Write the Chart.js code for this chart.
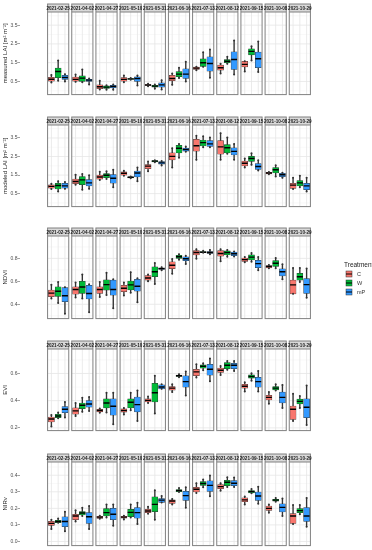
<!DOCTYPE html>
<html><head><meta charset="utf-8">
<script src="https://cdn.jsdelivr.net/npm/chart.js@4.4.1/dist/chart.umd.min.js"></script>
<style>
html,body{margin:0;padding:0;background:#fff;}
body{width:372px;height:550px;position:relative;overflow:hidden;}
canvas{position:absolute;left:0;}
</style></head><body>
<script>
// ---------- DATA ----------
const dates = ['2021-02-25','2021-04-02','2021-04-27','2021-05-10','2021-05-31','2021-06-16','2021-07-13','2021-08-12','2021-09-15','2021-10-08','2021-10-29'];
const treatments = ['C','W','mP'];
// each entry: [min, q1, median, q3, max]
const mLAI_C = [[0.45,0.52,0.62,0.72,0.85],[0.48,0.52,0.61,0.73,0.87],[0.07,0.11,0.22,0.32,0.54],[0.46,0.52,0.61,0.71,0.82],[0.25,0.29,0.31,0.34,0.38],[0.32,0.54,0.66,0.82,0.93],[1.10,1.14,1.21,1.26,1.28],[0.93,1.10,1.23,1.37,1.44],[1.03,1.28,1.41,1.57,1.58],null,null];
const mLAI_W = [[0.54,0.70,1.03,1.21,1.62],[0.46,0.50,0.68,0.80,1.14],[0.06,0.13,0.20,0.27,0.30],[0.59,0.61,0.64,0.66,0.68],[0.11,0.20,0.25,0.30,0.34],[0.68,0.75,0.89,1.03,1.23],[1.28,1.30,1.50,1.71,2.05],[1.44,1.50,1.58,1.67,1.81],[1.62,1.92,2.10,2.24,2.37],null,null];
const mLAI_mP = [[0.50,0.61,0.71,0.82,0.89],[0.34,0.50,0.57,0.62,0.66],[0.06,0.16,0.23,0.30,0.34],[0.29,0.50,0.66,0.75,0.82],[0.07,0.20,0.32,0.43,0.57],[0.50,0.66,0.89,1.17,1.55],[0.70,1.05,1.46,1.81,2.20],[0.87,1.14,1.67,2.08,2.68],[1.01,1.23,1.71,2.06,2.63],null,null];

const modLAI_C = [[0.75,0.80,0.89,0.98,1.03],[0.98,1.03,1.15,1.29,1.52],[1.24,1.28,1.40,1.50,1.68],[1.47,1.50,1.60,1.68,1.73],[1.70,1.84,1.98,2.07,2.23],[1.91,2.32,2.51,2.70,2.95],[2.32,2.79,3.08,3.43,3.62],[2.33,2.63,3.02,3.36,3.76],[1.91,2.00,2.14,2.25,2.39],[1.55,1.56,1.61,1.65,1.67],[0.75,0.78,0.96,1.06,1.35]];
const modLAI_W = [[0.61,0.75,0.94,1.06,1.17],[0.71,0.98,1.24,1.42,1.56],[1.29,1.36,1.49,1.58,1.70],[1.33,1.35,1.38,1.40,1.42],[2.19,2.21,2.25,2.28,2.30],[2.44,2.70,2.95,3.11,3.18],[3.00,3.07,3.25,3.39,3.59],[2.65,2.70,2.97,3.15,3.53],[2.05,2.23,2.39,2.51,2.67],[1.42,1.61,1.79,1.91,2.03],[0.85,0.92,1.08,1.20,1.47]];
const modLAI_mP = [[0.76,0.80,0.92,1.05,1.12],[0.76,0.92,1.08,1.26,1.49],[0.85,1.06,1.33,1.52,1.79],[1.17,1.40,1.61,1.72,1.91],[2.02,2.09,2.16,2.23,2.26],[2.76,2.79,2.88,2.96,3.04],[3.00,3.04,3.18,3.36,3.53],[2.33,2.58,2.78,2.97,3.18],[1.75,1.80,1.96,2.12,2.30],[1.35,1.42,1.52,1.59,1.63],[0.61,0.71,0.92,1.06,1.36]];

const ndvi_C = [[0.451,0.466,0.497,0.523,0.571],[0.460,0.489,0.529,0.551,0.589],[0.463,0.494,0.529,0.551,0.594],[0.477,0.509,0.540,0.566,0.589],[0.600,0.609,0.629,0.649,0.660],[0.666,0.711,0.740,0.769,0.794],[0.797,0.829,0.851,0.869,0.880],[0.774,0.820,0.843,0.869,0.880],[0.766,0.774,0.789,0.803,0.811],[0.714,0.717,0.729,0.737,0.743],[0.491,0.491,0.569,0.611,0.717]];
const ndvi_W = [[0.411,0.469,0.514,0.551,0.594],[0.451,0.494,0.551,0.600,0.660],[0.480,0.523,0.571,0.614,0.674],[0.500,0.526,0.569,0.603,0.680],[0.577,0.640,0.683,0.726,0.760],[0.789,0.800,0.814,0.826,0.837],[0.849,0.851,0.854,0.860,0.866],[0.814,0.831,0.851,0.866,0.874],[0.771,0.786,0.811,0.831,0.846],[0.714,0.729,0.757,0.780,0.803],[0.594,0.609,0.640,0.669,0.717]];
const ndvi_mP = [[0.317,0.423,0.474,0.546,0.549],[0.331,0.446,0.494,0.566,0.574],[0.366,0.480,0.529,0.611,0.617],[0.417,0.514,0.557,0.617,0.626],[0.697,0.703,0.711,0.717,0.723],[0.751,0.780,0.797,0.814,0.823],[0.837,0.843,0.851,0.860,0.874],[0.817,0.823,0.840,0.854,0.860],[0.697,0.720,0.754,0.783,0.811],[0.617,0.646,0.683,0.709,0.749],[0.457,0.494,0.571,0.623,0.711]];

const evi_C = [[0.210,0.243,0.265,0.280,0.294],[0.287,0.301,0.325,0.347,0.383],[0.311,0.318,0.328,0.337,0.342],[0.299,0.316,0.328,0.340,0.347],[0.383,0.390,0.402,0.414,0.431],[0.463,0.477,0.492,0.504,0.520],[0.571,0.583,0.612,0.631,0.667],[0.588,0.607,0.624,0.639,0.655],[0.467,0.492,0.506,0.520,0.535],[0.378,0.405,0.424,0.439,0.463],[0.251,0.263,0.337,0.361,0.451]];
const evi_W = [[0.270,0.275,0.287,0.299,0.313],[0.318,0.342,0.366,0.383,0.422],[0.313,0.347,0.383,0.414,0.458],[0.330,0.347,0.388,0.414,0.458],[0.306,0.390,0.458,0.528,0.583],[0.573,0.578,0.583,0.588,0.595],[0.624,0.639,0.653,0.663,0.675],[0.627,0.636,0.660,0.680,0.692],[0.547,0.566,0.578,0.590,0.602],[0.475,0.480,0.492,0.504,0.520],[0.347,0.376,0.395,0.412,0.434]];
const evi_mP = [[0.277,0.311,0.337,0.357,0.390],[0.325,0.352,0.376,0.400,0.427],[0.227,0.294,0.359,0.414,0.458],[0.251,0.318,0.371,0.427,0.475],[0.487,0.487,0.501,0.516,0.520],[0.439,0.499,0.540,0.583,0.614],[0.542,0.588,0.631,0.667,0.711],[0.619,0.636,0.660,0.675,0.692],[0.467,0.499,0.540,0.571,0.619],[0.347,0.383,0.424,0.463,0.516],[0.222,0.275,0.352,0.414,0.511]];

const nirv_C = [[0.075,0.097,0.109,0.121,0.131],[0.121,0.131,0.154,0.164,0.188],[0.137,0.139,0.147,0.152,0.156],[0.133,0.141,0.147,0.152,0.156],[0.168,0.174,0.184,0.194,0.210],[0.224,0.230,0.244,0.251,0.257],[0.293,0.299,0.315,0.327,0.352],[0.307,0.319,0.331,0.343,0.352],[0.224,0.240,0.251,0.263,0.271],[0.174,0.188,0.200,0.214,0.224],[0.105,0.109,0.154,0.168,0.220]];
const nirv_W = [[0.113,0.113,0.121,0.127,0.139],[0.154,0.160,0.172,0.180,0.204],[0.145,0.154,0.174,0.198,0.224],[0.145,0.150,0.176,0.194,0.224],[0.131,0.180,0.224,0.269,0.309],[0.299,0.301,0.307,0.313,0.323],[0.327,0.339,0.350,0.362,0.374],[0.329,0.337,0.358,0.370,0.388],[0.291,0.293,0.301,0.307,0.317],[0.240,0.244,0.250,0.255,0.263],[0.164,0.174,0.186,0.198,0.220]];
const nirv_mP = [[0.061,0.089,0.121,0.149,0.180],[0.075,0.109,0.149,0.174,0.214],[0.095,0.131,0.164,0.200,0.224],[0.105,0.141,0.174,0.204,0.234],[0.236,0.236,0.250,0.259,0.275],[0.204,0.248,0.277,0.303,0.327],[0.273,0.303,0.339,0.366,0.398],[0.329,0.337,0.352,0.368,0.386],[0.228,0.248,0.275,0.299,0.331],[0.154,0.178,0.206,0.228,0.259],[0.089,0.121,0.154,0.204,0.263]];

const ticksLAI = [0.5,1.5,2.5,3.5];
const minorLAI = [0,1,2,3,4];
const ticksNDVI = [0.4,0.6,0.8];
const minorNDVI = [0.3,0.5,0.7,0.9];
const ticksEVI = [0.2,0.4,0.6];
const minorEVI = [0.3,0.5,0.7];
const ticksNIRv = [0.0,0.1,0.2,0.3,0.4];
const minorNIRv = [0.05,0.15,0.25,0.35,0.45];

// ---------- STYLE / LAYOUT ----------
const colors = ['#F8766D','#00BA38','#3399FF'];
const rows = [
  {title:'measured LAI [m² m⁻²]', series:[mLAI_C,mLAI_W,mLAI_mP], min:-0.2, max:4.2, ticks:ticksLAI, minor:minorLAI, stripTop:4, panelBottom:96},
  {title:'modeled LAI [m² m⁻²]', series:[modLAI_C,modLAI_W,modLAI_mP], min:-0.2, max:4.2, ticks:ticksLAI, minor:minorLAI, stripTop:117, panelBottom:208},
  {title:'NDVI', series:[ndvi_C,ndvi_W,ndvi_mP], min:0.275, max:0.995, ticks:ticksNDVI, minor:minorNDVI, stripTop:228, panelBottom:320, legend:true},
  {title:'EVI', series:[evi_C,evi_W,evi_mP], min:0.18, max:0.78, ticks:ticksEVI, minor:minorEVI, stripTop:341, panelBottom:432},
  {title:'NIRv', series:[nirv_C,nirv_W,nirv_mP], min:-0.025, max:0.48, ticks:ticksNIRv, minor:minorNIRv, stripTop:454, panelBottom:547}
];
const STRIP = 8, GAP = 3, AXIS_W = 19.5, RIGHT = 338.5;
const D = (26/3.2)/29; // dodge spacing in facet units

Chart.defaults.font.family = '"Liberation Sans", Arial, sans-serif';

function line(ctx,x1,y1,x2,y2){ctx.beginPath();ctx.moveTo(x1,y1);ctx.lineTo(x2,y2);ctx.stroke();}

const facetPlugin = {
  id:'facets',
  beforeDatasetsDraw(chart, args, o){
    const {ctx, chartArea:a, scales} = chart;
    const xs=[scales.x0,scales.x1,scales.x2], y=scales.y;
    ctx.save();
    dates.forEach((d,i)=>{
      const l = xs[1].getPixelForValue(i-0.5)+GAP/2, r = xs[1].getPixelForValue(i+0.5)-GAP/2;
      ctx.strokeStyle='#F3F3F3'; ctx.lineWidth=0.5;
      o.minor.forEach(v=>{const py=y.getPixelForValue(v); if(py>a.top&&py<a.bottom) line(ctx,l,py,r,py);});
      ctx.strokeStyle='#E6E6E6'; ctx.lineWidth=0.8;
      o.ticks.forEach(v=>{const py=y.getPixelForValue(v); line(ctx,l,py,r,py);});
      xs.forEach(s=>{const px=s.getPixelForValue(i); line(ctx,px,a.top,px,a.bottom);});
    });
    ctx.restore();
  },
  afterDatasetsDraw(chart, args, o){
    const {ctx, chartArea:a, scales} = chart;
    const xs=scales.x1;
    ctx.save();
    dates.forEach((d,i)=>{
      const l = xs.getPixelForValue(i-0.5)+GAP/2, r = xs.getPixelForValue(i+0.5)-GAP/2;
      ctx.fillStyle='#D9D9D9';
      ctx.fillRect(l,a.top-STRIP,r-l,STRIP);
      ctx.strokeStyle='#808080'; ctx.lineWidth=1;
      ctx.strokeRect(l,a.top-STRIP,r-l,a.bottom-a.top+STRIP);
      line(ctx,l,a.top,r,a.top);
      ctx.fillStyle='#1A1A1A';
      ctx.font='bold 4.6px "Liberation Sans", Arial, sans-serif';
      ctx.textAlign='center'; ctx.textBaseline='middle';
      ctx.fillText(d,(l+r)/2,a.top-STRIP/2+0.3);
    });
    ctx.restore();
  },
  afterDraw(chart, args, o){
    if(!o.legend) return;
    const ctx = chart.ctx, top = o.canvasTop;
    ctx.save();
    ctx.fillStyle='#222';
    ctx.font='6.5px "Liberation Sans", Arial, sans-serif';
    ctx.textAlign='left'; ctx.textBaseline='middle';
    ctx.fillText('Treatment',344,265-top);
    treatments.forEach((t,k)=>{
      const cy = 274 + k*9 - top;
      ctx.fillStyle=colors[k];
      ctx.fillRect(346,cy-3,6,6);
      ctx.strokeStyle='#333'; ctx.lineWidth=0.5;
      ctx.strokeRect(346,cy-3,6,6);
      ctx.strokeStyle='#000'; ctx.lineWidth=1;
      line(ctx,346,cy,352,cy);
      ctx.fillStyle='#333';
      ctx.font='5.5px "Liberation Sans", Arial, sans-serif';
      ctx.fillText(t,357,cy);
    });
    ctx.restore();
  }
};

rows.forEach(r=>{
  const top = r.stripTop-2;
  const h = r.panelBottom - r.stripTop + 6;
  const cv = document.createElement('canvas');
  cv.width=372; cv.height=h;
  cv.style.top=top+'px'; cv.style.width='372px'; cv.style.height=h+'px';
  document.body.appendChild(cv);

  const datasets=[];
  r.series.forEach((arr,k)=>{
    const idx = arr.map((v,i)=>v?i:-1).filter(i=>i>=0);
    const ax = 'x'+k;
    datasets.push({type:'bar', label:treatments[k], xAxisID:ax, yAxisID:'y', order:3,
      data: idx.map(i=>({x:i, y:[arr[i][1],arr[i][3]]})),
      backgroundColor:colors[k], borderColor:'#333', borderWidth:0.5, borderSkipped:false,
      barThickness:6, grouped:false});
    datasets.push({type:'bar', label:treatments[k]+' whisker', xAxisID:ax, yAxisID:'y', order:4,
      data: idx.map(i=>({x:i, y:[arr[i][0],arr[i][4]]})),
      backgroundColor:'#333', borderWidth:0, barThickness:0.7, grouped:false});
    datasets.push({type:'scatter', label:treatments[k]+' median', xAxisID:ax, yAxisID:'y', order:2,
      data: idx.map(i=>({x:i, y:arr[i][2]})),
      pointStyle:'line', pointRadius:3, borderColor:'#000', borderWidth:1.4, showLine:false});
    datasets.push({type:'scatter', label:treatments[k]+' points', xAxisID:ax, yAxisID:'y', order:1,
      data: idx.flatMap(i=>[{x:i, y:arr[i][0]},{x:i, y:arr[i][4]}]),
      pointStyle:'circle', pointRadius:1, backgroundColor:'#333', borderWidth:0, showLine:false});
  });

  new Chart(cv,{
    type:'bar',
    data:{datasets},
    options:{
      responsive:false, animation:false, devicePixelRatio:1,
      events:[],
      layout:{padding:{top:10,bottom:4,left:0,right:372-RIGHT}},
      plugins:{legend:{display:false}, tooltip:{enabled:false},
        facets:{ticks:r.ticks, minor:r.minor, legend:!!r.legend, canvasTop:top}},
      scales:{
        x0:{type:'linear', display:false, min:-0.5+D, max:10.5+D},
        x1:{type:'linear', display:false, min:-0.5, max:10.5},
        x2:{type:'linear', display:false, min:-0.5-D, max:10.5-D},
        y:{type:'linear', position:'left', min:r.min, max:r.max,
          afterFit:s=>{s.width=AXIS_W;},
          afterBuildTicks:s=>{s.ticks=r.ticks.map(v=>({value:v}));},
          ticks:{font:{size:5}, color:'#4D4D4D', padding:0, callback:v=>Number(v).toFixed(1)},
          grid:{drawOnChartArea:false, drawTicks:true, tickLength:2, color:'#444', lineWidth:0.5},
          border:{display:false},
          title:{display:true, text:r.title, font:{size:6}, color:'#222', padding:{top:1.5,bottom:0}}
        }
      }
    },
    plugins:[facetPlugin]
  });
});
</script>
</body></html>
